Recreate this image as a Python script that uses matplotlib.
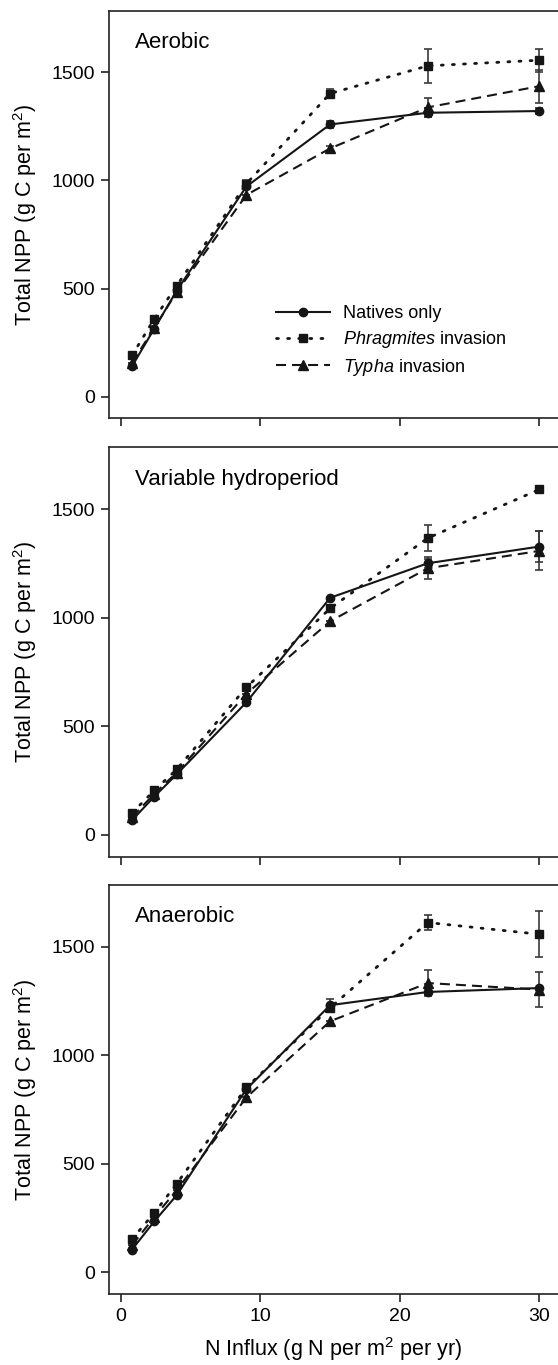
import matplotlib
matplotlib.use("Agg")
import matplotlib.pyplot as plt

plt.rcParams['font.family'] = ['Liberation Sans', 'DejaVu Sans']
plt.rcParams['mathtext.fontset'] = 'custom'
plt.rcParams['mathtext.rm'] = 'Liberation Sans'
plt.rcParams['mathtext.it'] = 'Liberation Sans:italic'

# ---- data ----
n_influx = [0.8, 2.4, 4, 9, 15, 22, 30]
panels = ["Aerobic", "Variable hydroperiod", "Anaerobic"]

aer_natives = [141, 315, 490, 972, 1259, 1313, 1321]
aer_natives_err = [0, 0, 0, 0, 15, 20, 15]
aer_phrag = [191, 360, 513, 985, 1402, 1530, 1556]
aer_phrag_err = [0, 0, 0, 15, 20, 78, 54]
aer_typha = [157, 318, 484, 933, 1148, 1338, 1436]
aer_typha_err = [0, 0, 0, 0, 10, 45, 77]

var_natives = [68, 177, 279, 611, 1092, 1251, 1328]
var_natives_err = [0, 0, 0, 0, 0, 20, 70]
var_phrag = [102, 205, 302, 680, 1043, 1367, 1591]
var_phrag_err = [0, 0, 0, 0, 0, 60, 0]
var_typha = [82, 190, 287, 650, 984, 1228, 1308]
var_typha_err = [0, 0, 0, 0, 0, 50, 90]

ana_natives = [105, 235, 355, 844, 1231, 1292, 1310]
ana_natives_err = [0, 0, 0, 0, 30, 15, 0]
ana_phrag = [153, 274, 408, 852, 1219, 1612, 1558]
ana_phrag_err = [0, 0, 0, 0, 0, 33, 107]
ana_typha = [125, 255, 378, 806, 1157, 1333, 1303]
ana_typha_err = [0, 0, 0, 0, 0, 60, 80]

series_labels = ["Natives only", r"$\mathit{Phragmites}$ invasion", r"$\mathit{Typha}$ invasion"]
x_ticks = [0, 10, 20, 30]
y_ticks = [0, 500, 1000, 1500]

panel_data = [
    [(aer_natives, aer_natives_err), (aer_phrag, aer_phrag_err), (aer_typha, aer_typha_err)],
    [(var_natives, var_natives_err), (var_phrag, var_phrag_err), (var_typha, var_typha_err)],
    [(ana_natives, ana_natives_err), (ana_phrag, ana_phrag_err), (ana_typha, ana_typha_err)],
]

# ---- styles ----
styles = [
    dict(linestyle='-', marker='o', markersize=6, lw=1.5),
    dict(linestyle=(0, (0.7, 3.3)), marker='s', markersize=5.2, lw=2.0, dash_capstyle='round'),
    dict(linestyle=(0, (4.8, 2.9)), marker='^', markersize=6.5, lw=1.5),
]
col = '#151515'

W, H = 558, 1365
fig = plt.figure(figsize=(W / 100, H / 100), dpi=100)

left_px = 109
tops = [10.7, 447.3, 885]
heights = [407.6, 409.4, 409]

for i, (name, data) in enumerate(zip(panels, panel_data)):
    top = tops[i]
    h = heights[i]
    ax = fig.add_axes([left_px / W, (H - top - h) / H, (W - left_px) / W, h / H])
    handles = []
    for (vals, errs), st, lab in zip(data, styles, series_labels):
        c = ax.errorbar(n_influx, vals, yerr=errs, color=col, ecolor='#3a3a3a',
                        elinewidth=1.2, capsize=3, capthick=1.2,
                        markerfacecolor=col, markeredgecolor=col, label=lab, **st)
        handles.append(c[0])
    ax.set_xlim(-0.85, -0.85 + (W - left_px) / 13.95)
    ax.set_ylim(-100, 1785)
    ax.set_xticks(x_ticks)
    ax.set_yticks(y_ticks)
    ax.spines['right'].set_visible(False)
    for s in ax.spines.values():
        s.set_linewidth(1.2)
        s.set_color('#222222')
    ax.tick_params(direction='out', length=6, width=1.2, labelsize=14, color='#222222', pad=4)
    if i < 2:
        ax.tick_params(axis='x', labelbottom=False)
    else:
        ax.set_xlabel(r"N Influx (g N per m$^{2}$ per yr)", fontsize=15.5, labelpad=7)
    ax.set_ylabel(r"Total NPP (g C per m$^{2}$)", fontsize=15.5, labelpad=9)
    ax.text(26 / (W - left_px), 1 - 32 / h, name, transform=ax.transAxes,
            fontsize=16, ha='left', va='center')
    if i == 0:
        ax.legend(handles=handles, labels=series_labels, loc='upper left',
                  bbox_to_anchor=((276 - left_px) / (W - left_px), 1 - (305 - top) / h),
                  frameon=False, fontsize=13, handlelength=3.0, handletextpad=0.72,
                  labelspacing=0.38, borderpad=0, borderaxespad=0)

fig.savefig("out.png", dpi=100)
